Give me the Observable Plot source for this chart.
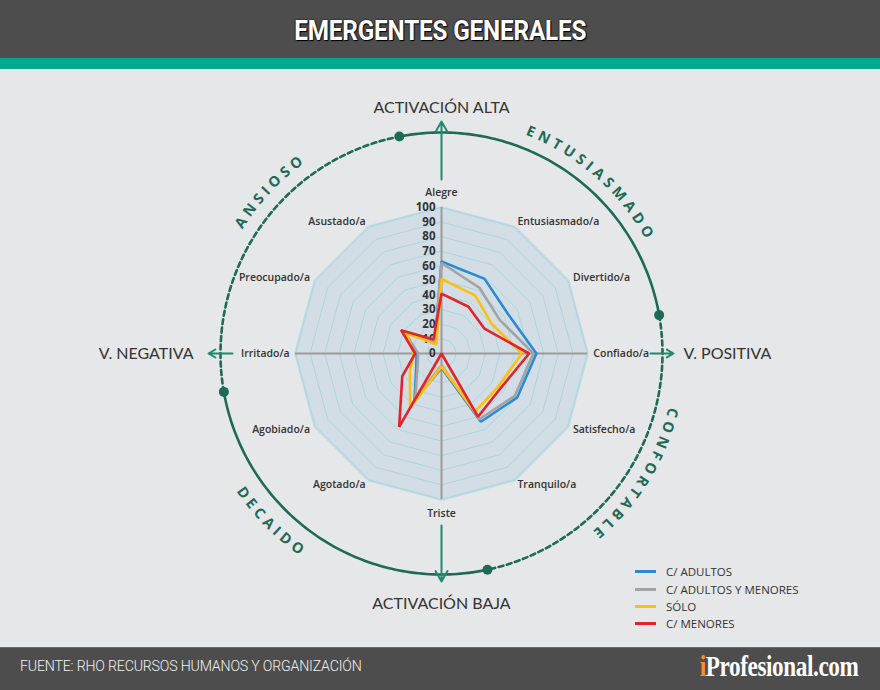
<!DOCTYPE html>
<html>
<head>
<meta charset="utf-8">
<script src="https://cdn.jsdelivr.net/npm/d3@7"></script>
<script src="https://cdn.jsdelivr.net/npm/@observablehq/plot@0.6"></script>
<style>
html,body{margin:0;padding:0;background:#e6e7e8;}
#page{position:relative;width:880px;height:690px;overflow:hidden;background:#e6e7e8;font-family:"Open Sans",sans-serif;}
#header{height:58px;background:#4d4d4d;display:flex;align-items:center;justify-content:center;}
#header h1{margin:4px 0 0 0;color:#fff;font-family:Roboto,sans-serif;font-weight:700;font-size:27px;letter-spacing:-0.2px;transform:scaleX(0.9);text-shadow:0 0 2px #000,1px 1px 1px #000;}
#stripe{height:11px;background:#00a88e;}
#chart{position:relative;height:578px;}
#footer{position:absolute;left:0;top:647px;width:880px;height:43px;background:#4d4d4d;border-top:1px solid #6a6a6a;}
#source{position:absolute;left:20px;top:10px;color:#f2f2f2;font-family:Roboto,sans-serif;font-weight:300;font-size:14.2px;letter-spacing:-0.2px;}
#brand{position:absolute;right:22px;top:2px;color:#fff;font-family:"Liberation Serif",serif;font-weight:700;font-size:29px;transform:scaleX(0.8);transform-origin:right center;letter-spacing:-0.5px;}
#brand .i{color:#f7941d;}
#legend{position:absolute;left:635px;top:563px;font-family:"Open Sans",sans-serif;font-size:11.5px;color:#333;}
#legend .item{display:flex;align-items:center;height:17.4px;}
#legend .sw{display:inline-block;width:21px;height:3px;margin-right:10px;}
</style>
</head>
<body>
<div id="page">
  <div id="header"><h1>EMERGENTES GENERALES</h1></div>
  <div id="stripe"></div>
  <div id="chart"></div>
  <div id="legend"></div>
  <div id="footer">
    <div id="source">FUENTE: RHO RECURSOS HUMANOS Y ORGANIZACIÓN</div>
    <div id="brand"><span class="i">i</span>Profesional.com</div>
  </div>
</div>
<script>
// ---- data ----
const axes = ["Alegre","Entusiasmado/a","Divertido/a","Confiado/a","Satisfecho/a","Tranquilo/a","Triste","Agotado/a","Agobiado/a","Irritado/a","Preocupado/a","Asustado/a"];
const seriesNames = ["C/ ADULTOS","C/ ADULTOS Y MENORES","SÓLO","C/ MENORES"];
const seriesColors = ["#2b8ad2","#a3a3a3","#fec00f","#e2232a"];
const adultos        = [63, 59, 53, 65, 60, 54, 10, 37, 20, 17, 29, 9];
const adultosMenores = [62, 52, 46, 63, 58, 52, 8, 36, 19, 16, 29, 9];
const solo           = [51, 46, 40, 55, 45, 46, 9, 43, 25, 19, 28, 7];
const menores        = [41, 37, 34, 60, 47, 50, 0, 58, 31, 18, 32, 11];
const tickValues = [0,10,20,30,40,50,60,70,80,90,100];
const quadrantNames = ["ENTUSIASMADO","CONFORTABLE","DECAIDO","ANSIOSO"];
const directionLabels = ["ACTIVACIÓN ALTA","V. POSITIVA","ACTIVACIÓN BAJA","V. NEGATIVA"];

// ---- layout ----
const W = 880, H = 578, CX = 441, CY = 284, K = 1.46; // px per unit
const green = "#1d6b56", arrowGreen = "#1f8a70";
const deg = Math.PI/180;
const ang = i => i * 2 * Math.PI / axes.length;
const pol = (r, a) => ({x: r*Math.sin(a), y: r*Math.cos(a)});

const allSeries = [adultos, adultosMenores, solo, menores];
const rows = allSeries.flatMap((vals, s) => vals.map((v, i) => ({series: seriesNames[s], axis: axes[i], value: v, ...pol(v, ang(i))})));
const ring = r => axes.map((a, i) => ({r, ...pol(r, ang(i))}));
const rings = tickValues.filter(t => t > 0).flatMap(ring);
const labels = axes.map((name, i) => {
  const a = ang(i), s = Math.sin(a);
  const side = Math.abs(s) < 0.01 ? "middle" : (s > 0 ? "start" : "end");
  const r = side === "middle" ? 110 : 104;
  return {name, side, ...pol(r, a)};
});

// outer circle arcs (angles from top, clockwise)
const RC = 221 / K;
const junctions = [-11, 80, 168, 260, 349];
const arcs = [];
for (let q = 0; q < 4; q++) {
  const a0 = junctions[q], a1 = junctions[q+1];
  for (let a = a0; a <= a1 + 1e-9; a += 1) arcs.push({q, dashed: q % 2 === 1, ...pol(RC, a*deg)});
}
const dots = junctions.slice(0, 4).map(a => pol(RC, a*deg));

// direction arrows
const arrows = [
  {a: 0,   r1: 174, r2: 232},
  {a: 90,  r1: 209, r2: 232},
  {a: 180, r1: 172, r2: 228},
  {a: 270, r1: 209, r2: 233}
].map(d => {
  const p1 = pol(d.r1/K, d.a*deg), p2 = pol(d.r2/K, d.a*deg);
  return {x1: p1.x, y1: p1.y, x2: p2.x, y2: p2.y};
});
const dirText = [
  {t: directionLabels[0], anchor: "middle", ...pol(246/K, 0)},
  {t: directionLabels[1], anchor: "start",  ...pol(242/K, 90*deg)},
  {t: directionLabels[2], anchor: "middle", ...pol(250/K, 180*deg)},
  {t: directionLabels[3], anchor: "end",    ...pol(248/K, 270*deg)}
];

const plot = Plot.plot({
  width: W, height: H, margin: 0,
  style: {background: "transparent", overflow: "visible"},
  x: {domain: [-CX/K, (W-CX)/K], axis: null},
  y: {domain: [-(H-CY)/K, CY/K], axis: null},
  color: {domain: seriesNames, range: seriesColors},
  marks: [
    // background polygon
    Plot.line(ring(100), {x: "x", y: "y", curve: "linear-closed", fill: "#d3dde6", stroke: "#c6dde7", strokeWidth: 3}),
    Plot.line(rings, {x: "x", y: "y", z: "r", curve: "linear-closed", stroke: "#abd6dd", strokeWidth: 1}),
    // axes
    Plot.ruleX([0], {x: () => 0, y1: () => -100, y2: () => 100, stroke: "#9b9b9b", strokeWidth: 2}),
    Plot.ruleY([0], {y: () => 0, x1: () => -100, x2: () => 100, stroke: "#9b9b9b", strokeWidth: 2}),
    Plot.text(tickValues, {x: () => 0, y: d => d, text: d => String(d), textAnchor: "end", dx: -6, fontSize: 11.5, fontWeight: 700, fill: "#333", fontFamily: "Open Sans"}),
    // series
    Plot.line(rows, {x: "x", y: "y", z: "series", stroke: "series", curve: "linear-closed", strokeWidth: 2.6, strokeLinejoin: "miter"}),
    // category labels
    ...["start","middle","end"].map(side => Plot.text(labels.filter(d => d.side === side), {x: "x", y: "y", text: "name", textAnchor: side, fontSize: 10.5, fontWeight: 600, fill: "#333", fontFamily: "Open Sans"})),
    // outer circle
    Plot.line(arcs.filter(d => !d.dashed), {x: "x", y: "y", z: "q", stroke: green, strokeWidth: 2.6}),
    Plot.line(arcs.filter(d => d.dashed), {x: "x", y: "y", z: "q", stroke: green, strokeWidth: 2.6, strokeDasharray: "5,3.5"}),
    Plot.dot(dots, {x: "x", y: "y", r: 5, fill: green}),
    // arrows
    Plot.arrow(arrows, {x1: "x1", y1: "y1", x2: "x2", y2: "y2", stroke: arrowGreen, strokeWidth: 2, headLength: 9}),
    ...["start","middle","end"].map(side => Plot.text(dirText.filter(d => d.anchor === side), {x: "x", y: "y", text: "t", textAnchor: side, fontSize: 16, fill: "#333", fontFamily: "Lato"}))
  ]
});
document.getElementById("chart").appendChild(plot);

// curved quadrant names (text on path, positioned with the plot's scales)
const sx = plot.scale("x"), sy = plot.scale("y");
const cx = sx.apply(0), cy = sy.apply(0);
const svg = d3.select(plot);
const defs = svg.append("defs");
const arcLabels = [
  {text: quadrantNames[0], mid: 41.5, r: 234, cw: true},
  {text: quadrantNames[1], mid: 122, r: 234, cw: true},
  {text: quadrantNames[2], mid: 225, r: 247, cw: false},
  {text: quadrantNames[3], mid: -46.5, r: 234, cw: true}
];
arcLabels.forEach((d, i) => {
  const span = 60;
  const p = a => [cx + d.r*Math.sin(a*deg), cy - d.r*Math.cos(a*deg)];
  const s = d.cw ? d.mid - span : d.mid + span, e = d.cw ? d.mid + span : d.mid - span;
  const [x0, y0] = p(s), [x1, y1] = p(e);
  defs.append("path").attr("id", "qarc" + i).attr("d", `M${x0},${y0}A${d.r},${d.r} 0 0 ${d.cw ? 1 : 0} ${x1},${y1}`);
  svg.append("text")
    .attr("font-family", "Open Sans").attr("font-weight", 700).attr("font-size", 14.5)
    .attr("letter-spacing", 4.2).attr("fill", green)
    .append("textPath").attr("href", "#qarc" + i).attr("startOffset", "50%").attr("text-anchor", "middle")
    .text(d.text);
});

// legend
const legend = d3.select("#legend");
seriesNames.forEach((n, i) => {
  const it = legend.append("div").attr("class", "item");
  it.append("span").attr("class", "sw").style("background", seriesColors[i]);
  it.append("span").text(n);
});
</script>
</body>
</html>
